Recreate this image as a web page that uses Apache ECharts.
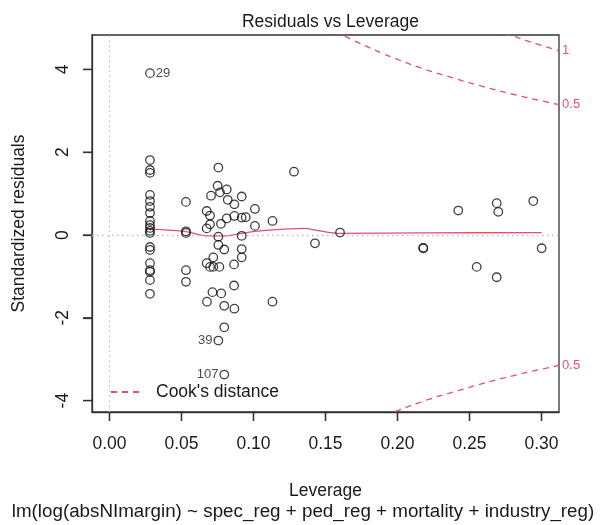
<!DOCTYPE html>
<html>
<head>
<meta charset="utf-8">
<script src="https://cdn.jsdelivr.net/npm/echarts@6/dist/echarts.min.js"></script>
<style>
html,body{margin:0;padding:0;background:#fff;}
#chart{width:603px;height:525px;}
</style>
</head>
<body>
<div id="chart"></div>
<script>
// ---- data ----
const leverage = [
  0.0281,0.0281,0.0281,0.0281,0.0281,0.0281,0.0281,0.0281,0.0281,0.0281,
  0.0281,0.0281,0.0281,0.0281,0.0281,0.0281,0.0281,0.0281,0.0281,0.0281,
  0.0531,0.0531,0.0531,0.0531,0.0531,
  0.0756,0.0751,0.0814,0.0767,0.0705,0.0821,0.0867,0.0918,0.0675,0.0698,
  0.1010,0.0814,0.0867,0.0918,0.0946,0.0774,0.0698,0.0675,0.1010,0.1132,
  0.0756,0.0918,0.0756,0.0797,0.0918,0.0918,0.0721,0.0675,0.0698,0.0721,
  0.0763,0.0865,0.0865,0.0715,0.0776,0.0677,0.0797,0.0867,0.1132,0.0797,
  0.0756,0.0797,
  0.1281,0.1427,0.1601,0.2179,0.2179,0.2422,0.2550,0.2689,0.2700,0.2689,
  0.2943,0.3001
];
const stdResid = [
  3.91,1.81,1.57,1.50,0.97,0.82,0.68,0.53,0.34,0.24,
  0.17,0.10,0.05,-0.29,-0.36,-0.68,-0.85,-0.89,-1.09,-1.42,
  0.80,0.09,0.05,-0.85,-1.13,
  1.63,1.19,1.10,1.03,0.95,0.85,0.74,0.93,0.58,0.47,
  0.63,0.40,0.46,0.42,0.43,0.27,0.26,0.16,0.22,0.34,
  -0.04,-0.02,-0.24,-0.35,-0.34,-0.54,-0.54,-0.68,-0.77,-0.77,
  -0.77,-0.71,-1.22,-1.38,-1.41,-1.61,-1.71,-1.78,-1.61,-2.23,
  -2.55,-3.37,
  1.53,-0.20,0.06,-0.32,-0.31,0.59,-0.77,0.77,0.56,-1.02,
  0.82,-0.32
];
const labeledIdx  = [0, 65, 66];
const labeledText = ['29', '39', '107'];
const labeledSide = ['right', 'left', 'left'];

const smoothLev = [0.0281,0.0531,0.0675,0.0797,0.0918,0.1045,0.125,0.135,0.143,0.160,0.218,0.3001];
const smoothVal = [0.14,0.08,-0.02,-0.02,0.04,0.10,0.15,0.16,0.12,0.04,0.05,0.06];

const cook05Lev   = [0.15,0.16,0.17,0.18,0.19,0.20,0.22,0.24,0.26,0.28,0.30,0.3122];
const cook05Upper = [5.05,4.86,4.69,4.53,4.38,4.24,3.99,3.78,3.58,3.40,3.24,3.15];
const cook05Lower = [-5.05,-4.86,-4.69,-4.53,-4.38,-4.24,-3.99,-3.78,-3.58,-3.40,-3.24,-3.15];
const cook1Lev    = [0.26,0.27,0.28,0.29,0.30,0.3122];
const cook1Upper  = [5.07,4.93,4.81,4.69,4.58,4.45];

const xTicks = [0, 0.05, 0.10, 0.15, 0.20, 0.25, 0.30];
const yTicks = [-4, -2, 0, 2, 4];

// ---- chart ----
const FONT = "'Liberation Sans', Arial, Helvetica, sans-serif";
const RED = '#DF536B';
const TXT = '#1a1a1a';
const AX = '#333333';
const X_MIN = -0.01215, X_MAX = 0.31215, Y_MIN = -4.275, Y_MAX = 4.831;
const TICK_LEN = 9;

const pts = leverage.map((x, i) => {
  const k = labeledIdx.indexOf(i);
  const item = { value: [x, stdResid[i]] };
  if (k >= 0) {
    item.label = {
      show: true, formatter: labeledText[k], position: labeledSide[k],
      distance: 1, fontSize: 13, fontFamily: FONT, color: TXT
    };
  }
  return item;
});
const zip = (a, b) => a.map((v, i) => [v, b[i]]);

const chart = echarts.init(document.getElementById('chart'));
const cookStyle = { color: RED, width: 1.3, type: [6, 5] };

// tick marks placed through the axes' own scales (custom series)
function tickRenderer(dir) {
  return function (params, api) {
    const p = api.coord([api.value(0), api.value(1)]);
    const shape = dir === 'x'
      ? { x1: p[0], y1: p[1], x2: p[0], y2: p[1] + TICK_LEN }
      : { x1: p[0], y1: p[1], x2: p[0] - TICK_LEN, y2: p[1] };
    return { type: 'line', shape: shape, style: { stroke: AX, lineWidth: 1.3 } };
  };
}

chart.setOption({
  animation: false,
  backgroundColor: '#fff',
  textStyle: { fontFamily: FONT },
  title: [
    { text: 'Residuals vs Leverage', left: 325.5, top: 8, textAlign: 'center',
      textStyle: { fontFamily: FONT, fontSize: 17.5, fontWeight: 'normal', color: TXT } },
    { text: 'lm(log(absNImargin) ~ spec_reg + ped_reg + mortality + industry_reg)', left: 298, top: 497, textAlign: 'center',
      textStyle: { fontFamily: FONT, fontSize: 18.8, fontWeight: 'normal', color: TXT } }
  ],
  grid: { left: 92, right: 44, top: 35, bottom: 113, show: true, borderColor: AX, borderWidth: 1.3 },
  legend: {
    data: ["Cook's distance"], left: 105, top: 378, itemWidth: 33, itemHeight: 14,
    itemStyle: { opacity: 0 },
    textStyle: { fontFamily: FONT, fontSize: 17.5, color: TXT, padding: [0, 0, 0, 7] },
    selectedMode: false
  },
  xAxis: {
    type: 'value', min: X_MIN, max: X_MAX,
    name: 'Leverage', nameLocation: 'middle', nameGap: 70,
    nameTextStyle: { fontFamily: FONT, fontSize: 17.5, color: TXT },
    axisLine: { show: true, onZero: false, lineStyle: { color: AX, width: 1.3 } },
    splitLine: { show: false },
    axisTick: { show: true, length: TICK_LEN, customValues: xTicks, lineStyle: { color: AX, width: 1.3 } },
    axisLabel: { customValues: xTicks, margin: 23, fontFamily: FONT, fontSize: 17.5, color: TXT,
      formatter: v => v.toFixed(2) }
  },
  yAxis: {
    type: 'value', min: Y_MIN, max: Y_MAX,
    name: 'Standardized residuals', nameLocation: 'middle', nameGap: 64, nameRotate: 90,
    nameTextStyle: { fontFamily: FONT, fontSize: 17.5, color: TXT },
    axisLine: { show: true, onZero: false, lineStyle: { color: AX, width: 1.3 } },
    splitLine: { show: false },
    axisTick: { show: true, length: TICK_LEN, customValues: yTicks, lineStyle: { color: AX, width: 1.3 } },
    axisLabel: { customValues: yTicks, rotate: 90, margin: 20, fontFamily: FONT, fontSize: 17.5, color: TXT,
      formatter: v => String(v) }
  },
  series: [
    {
      type: 'scatter', name: 'pts', data: pts, symbol: 'circle', symbolSize: 8.5,
      itemStyle: { color: 'rgba(0,0,0,0)', borderColor: '#111', borderWidth: 1.3 },
      z: 5,
      markLine: {
        silent: true, symbol: 'none', label: { show: false },
        lineStyle: { color: '#BEBEBE', width: 1.3, type: [1.5, 3.5] },
        data: [{ yAxis: 0 }, { xAxis: 0 }]
      }
    },
    {
      type: 'line', name: 'smooth', data: zip(smoothLev, smoothVal), symbol: 'none', smooth: 0.3,
      lineStyle: { color: RED, width: 1.3 }, z: 4
    },
    {
      type: 'line', name: "Cook's distance", data: zip(cook05Lev, cook05Upper), symbol: 'none', smooth: true,
      lineStyle: cookStyle, itemStyle: { color: RED }, clip: true,
      endLabel: { show: true, formatter: '0.5', color: RED, fontSize: 13, fontFamily: FONT, distance: 3 }
    },
    {
      type: 'line', name: "Cook's distance", data: zip(cook05Lev, cook05Lower), symbol: 'none', smooth: true,
      lineStyle: cookStyle, itemStyle: { color: RED }, clip: true,
      endLabel: { show: true, formatter: '0.5', color: RED, fontSize: 13, fontFamily: FONT, distance: 3 }
    },
    {
      type: 'line', name: "Cook's distance", data: zip(cook1Lev, cook1Upper), symbol: 'none', smooth: true,
      lineStyle: cookStyle, itemStyle: { color: RED }, clip: true,
      endLabel: { show: true, formatter: '1', color: RED, fontSize: 13, fontFamily: FONT, distance: 3 }
    },
    {
      type: 'custom', name: 'xticks', silent: true, clip: false, z: 10,
      data: xTicks.map(v => [v, Y_MIN]), renderItem: tickRenderer('x')
    },
    {
      type: 'custom', name: 'yticks', silent: true, clip: false, z: 10,
      data: yTicks.map(v => [X_MIN, v]), renderItem: tickRenderer('y')
    }
  ]
});
</script>
</body>
</html>
